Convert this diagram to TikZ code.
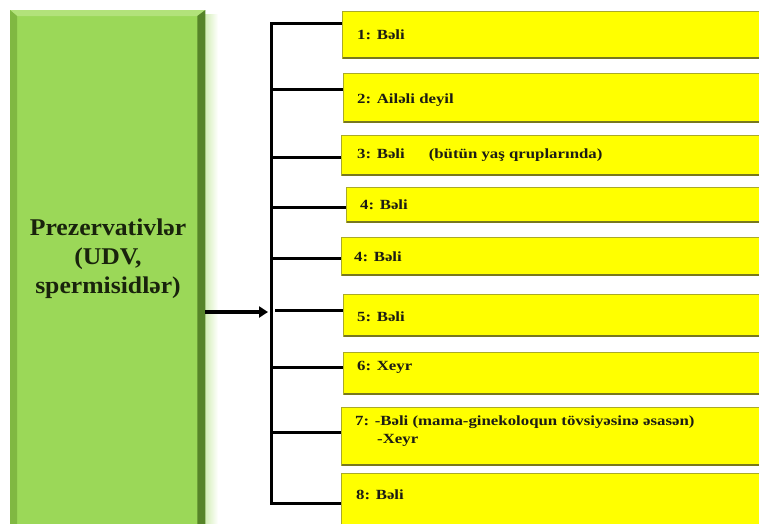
\documentclass[tikz,border=0pt]{standalone}
\usepackage{fontspec}
\setmainfont{Liberation Serif}
\usetikzlibrary{arrows.meta,calc}
\definecolor{gfill}{RGB}{155,216,88}
\definecolor{gtop}{RGB}{178,226,122}
\definecolor{gleft}{RGB}{128,184,66}
\definecolor{gright}{RGB}{86,132,40}
\definecolor{yfill}{RGB}{255,255,0}
\definecolor{yedge}{RGB}{170,170,40}
\definecolor{ybot}{RGB}{120,120,30}
\definecolor{gtext}{RGB}{25,35,12}
\definecolor{ytext}{RGB}{28,28,20}
\newcommand{\wide}[1]{\scalebox{1.2}[1]{#1}}
\newcommand{\gwide}[1]{\scalebox{1.07}[1]{#1}}
\tikzset{
  gbox/.style={fill=gfill, draw=none, anchor=north west, minimum width=195pt, minimum height=560pt, inner sep=0pt},
  ybox/.style={fill=yfill, draw=yedge, line width=0.7pt, anchor=north west, minimum width=430pt, inner sep=0pt},
  ybottom/.style={draw=ybot, line width=2.4pt},
  lbl/.style={anchor=west, font=\bfseries\fontsize{14}{18}\selectfont, text=ytext, inner sep=0pt, align=left},
  gtxt/.style={font=\bfseries\fontsize{24}{29}\selectfont, text=gtext, align=center, inner sep=0pt},
  conn/.style={draw=black, line width=3pt},
  arr/.style={draw=black, line width=3.4pt, -{Triangle[length=9pt,width=11pt]}}
}
\begin{document}
\begin{tikzpicture}[x=1pt,y=-1pt]
\useasboundingbox (0,0) rectangle (759,523);
\clip (0,0) rectangle (759,523);
\fill[white] (0,0) rectangle (759,523);

% green box with bevel
\shade[left color=gfill!45!white, right color=white] (205,14) rectangle (218,540);
\node[gbox] (g) at (10,10) {};
\fill[gtop] (g.north west) -- (g.north east) -- ($(g.north east)+(-8,6)$) -- ($(g.north west)+(7,6)$) -- cycle;
\fill[gleft] (g.north west) -- ($(g.north west)+(7,6)$) -- ($(g.south west)+(7,0)$) -- (g.south west) -- cycle;
\fill[gright] (g.north east) -- ($(g.north east)+(-8,6)$) -- ($(g.south east)+(-8,0)$) -- (g.south east) -- cycle;
\node[gtxt] (gt) at (108,259) {\gwide{Prezervativlər}\\\gwide{(UDV,}\\\gwide{spermisidlər)}};

% yellow boxes
\node[ybox, minimum height=47pt] (b1) at (342,11) {};
\node[ybox, minimum height=49pt] (b2) at (343,73) {};
\node[ybox, minimum height=40pt] (b3) at (341,135) {};
\node[ybox, minimum height=35pt] (b4) at (346,187) {};
\node[ybox, minimum height=38pt] (b5) at (341,237) {};
\node[ybox, minimum height=42pt] (b6) at (343,294) {};
\node[ybox, minimum height=42pt] (b7) at (343,352) {};
\node[ybox, minimum height=58pt] (b8) at (341,407) {};
\node[ybox, minimum height=70pt] (b9) at (341,473) {};
\foreach \b in {b1,b2,b3,b4,b5,b6,b7,b8,b9}
  \draw[ybottom] ($(\b.south west)+(1,-1)$) -- ($(\b.south east)+(0,-1)$);

% labels
\node[lbl] (l1) at (357,35) {\wide{1: Bəli}};
\node[lbl] (l2) at (357,100) {\wide{2: Ailəli deyil}};
\node[lbl] (l3) at (357,155) {\wide{3: Bəli\hspace{20pt}(bütün yaş qruplarında)}};
\node[lbl] (l4) at (360,205) {\wide{4: Bəli}};
\node[lbl] (l5) at (354,257) {\wide{4: Bəli}};
\node[lbl] (l6) at (357,317) {\wide{5: Bəli}};
\node[lbl] (l7) at (357,367) {\wide{6: Xeyr}};
\node[lbl] (l8) at (355,431) {\wide{7: -Bəli (mama-ginekoloqun tövsiyəsinə əsasən)}\\\hspace*{22pt}\wide{-Xeyr}};
\node[lbl] (l9) at (356,495) {\wide{8: Bəli}};

% connectors
\coordinate (ttop) at (271,23);
\coordinate (tbot) at (271,503);
\coordinate (tmid) at (268,312);
\draw[conn, line cap=rect] (ttop) -- (tbot);
\coordinate (c1) at (271,23);
\coordinate (c2) at (271,89);
\coordinate (c3) at (271,157);
\coordinate (c4) at (271,207);
\coordinate (c5) at (271,258);
\coordinate (c6) at (275,310);
\coordinate (c7) at (271,367);
\coordinate (c8) at (271,432);
\coordinate (c9) at (271,503);
\foreach \i/\b in {1/b1,2/b2,3/b3,4/b4,5/b5,6/b6,7/b7,8/b8,9/b9}
  \draw[conn] (c\i) -- (c\i -| \b.west);
\draw[arr] (g.east |- tmid) -- (tmid);
\end{tikzpicture}
\end{document}
